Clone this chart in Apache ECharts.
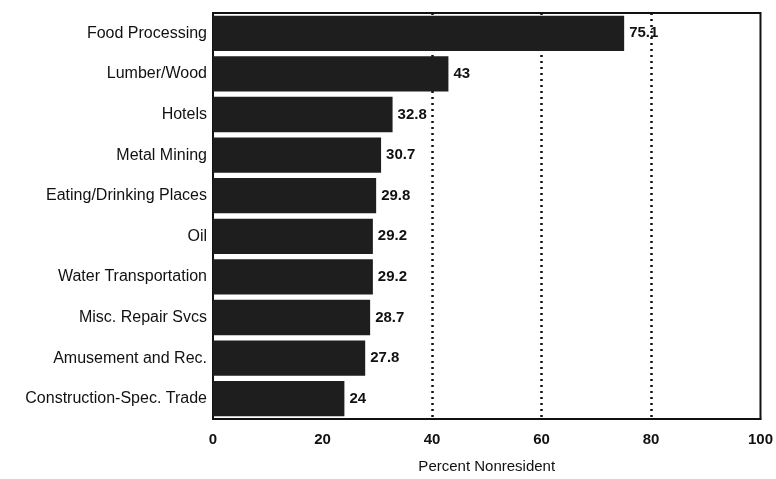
<!DOCTYPE html>
<html>
<head>
<meta charset="utf-8">
<script src="https://cdn.jsdelivr.net/npm/echarts@6/dist/echarts.min.js"></script>
<style>html,body{margin:0;padding:0;background:#fff}#c{width:776px;height:479px}</style>
</head>
<body>
<div id="c"></div>
<script>
var categories = ['Food Processing','Lumber/Wood','Hotels','Metal Mining','Eating/Drinking Places','Oil','Water Transportation','Misc. Repair Svcs','Amusement and Rec.','Construction-Spec. Trade'];
var values = [75.1, 43, 32.8, 30.7, 29.8, 29.2, 29.2, 28.7, 27.8, 24];
var xTicks = [0, 20, 40, 60, 80, 100];
var refLines = [40, 60, 80];
var xName = 'Percent Nonresident';

var chart = echarts.init(document.getElementById('c'));
var font = 'Arial, "Liberation Sans", sans-serif';
chart.setOption({
  animation: false,
  backgroundColor: '#fff',
  grid: { left: 213, right: 8, top: 13, bottom: 59, show: true, borderColor: '#111', borderWidth: 2, backgroundColor: 'transparent' },
  xAxis: {
    type: 'value', min: xTicks[0], max: xTicks[xTicks.length - 1], interval: 20,
    name: xName, nameLocation: 'middle', nameGap: 40,
    nameTextStyle: { color: '#111', fontSize: 15, fontFamily: font },
    axisLine: { show: true, lineStyle: { color: '#111', width: 2 } },
    axisTick: { show: false },
    axisLabel: { color: '#111', fontSize: 15, fontWeight: 'bold', fontFamily: font, margin: 13 },
    splitLine: { show: false }
  },
  yAxis: {
    type: 'category', data: categories, inverse: true,
    axisLine: { show: false }, axisTick: { show: false },
    axisLabel: { color: '#111', fontSize: 16, fontFamily: font, margin: 6 }
  },
  series: [{
    type: 'bar', data: values, barCategoryGap: '13%',
    itemStyle: { color: '#1e1e1e' },
    label: { show: true, position: 'right', distance: 5, color: '#111', fontSize: 15, fontWeight: 'bold', fontFamily: font },
    z: 3,
    markLine: {
      z: 1, silent: true, symbol: 'none', animation: false,
      label: { show: false },
      lineStyle: { color: '#111', type: [2, 4], width: 2.5 },
      data: refLines.map(function (v) { return { xAxis: v }; })
    }
  }]
});
</script>
</body>
</html>
